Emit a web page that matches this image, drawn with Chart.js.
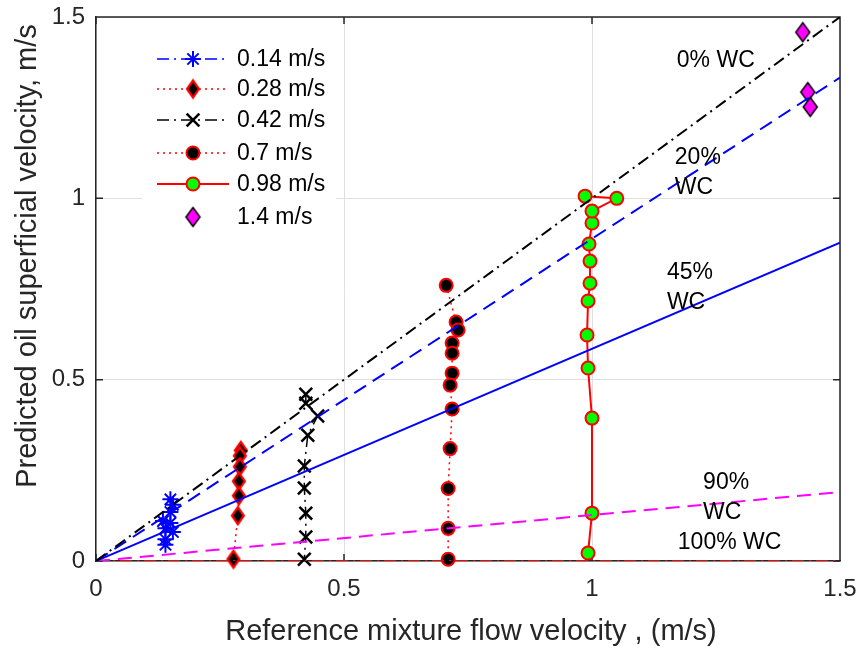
<!DOCTYPE html>
<html>
<head>
<meta charset="utf-8">
<script src="https://cdn.jsdelivr.net/npm/chart.js@4.4.1/dist/chart.umd.min.js"></script>
<style>
  body { margin: 0; background: #fff; }
</style>
</head>
<body>
<canvas id="velocityChart" width="866" height="650"></canvas>
<script>
// measured points per test velocity: reference velocity (x) vs predicted oil velocity (y)
const x014 = [0.15, 0.155, 0.15, 0.135, 0.15, 0.14, 0.155, 0.14, 0.14]
const y014 = [0.17, 0.155, 0.135, 0.11, 0.105, 0.09, 0.08, 0.06, 0.045]

const x028 = [0.292, 0.29, 0.29, 0.288, 0.288, 0.286, 0.277]
const y028 = [0.305, 0.29, 0.26, 0.22, 0.18, 0.125, 0.005]

const x042 = [0.423, 0.423, 0.447, 0.427, 0.42, 0.42, 0.423, 0.423, 0.42]
const y042 = [0.46, 0.435, 0.40, 0.347, 0.262, 0.201, 0.132, 0.066, 0.005]

const x07 = [0.706, 0.726, 0.73, 0.718, 0.718, 0.718, 0.714, 0.718, 0.714, 0.71, 0.71, 0.71]
const y07 = [0.76, 0.659, 0.637, 0.601, 0.573, 0.518, 0.485, 0.419, 0.31, 0.2, 0.09, 0.005]

const x098 = [0.992, 1.0, 1.0, 0.992, 0.99, 0.992, 0.996, 0.996, 0.994, 1.0, 1.0, 1.05, 0.986]
const y098 = [0.022, 0.132, 0.394, 0.532, 0.623, 0.717, 0.766, 0.827, 0.874, 0.932, 0.965, 1.0, 1.006]

const x14 = [1.425, 1.435, 1.44]
const y14 = [1.458, 1.293, 1.252]

// water-cut reference lines, from the origin to x = 1.5
const wcLineX = [0, 1.5]
const wcEndY = [1.5, 1.333, 0.878, 0.19, 0]

const seriesLabels = ["0.14 m/s", "0.28 m/s", "0.42 m/s", "0.7 m/s", "0.98 m/s", "1.4 m/s"]
const axisTicks = [0, 0.5, 1, 1.5]

const FONT = "'Liberation Sans', Arial, Helvetica, sans-serif"
const TEXT = "#262626"
const DASHDOT = [12, 5, 2, 5]
const DASHED = [14, 8]
const DOTTED = [2, 4]

function diamond(w, h, fill, edge, lw) {
    const c = document.createElement("canvas")
    c.width = w + lw * 2 + 2
    c.height = h + lw * 2 + 2
    const g = c.getContext("2d")
    const cx = c.width / 2, cy = c.height / 2
    g.beginPath()
    g.moveTo(cx, cy - h / 2)
    g.lineTo(cx + w / 2, cy)
    g.lineTo(cx, cy + h / 2)
    g.lineTo(cx - w / 2, cy)
    g.closePath()
    g.fillStyle = fill
    g.fill()
    g.lineWidth = lw
    g.strokeStyle = edge
    g.lineJoin = "miter"
    g.stroke()
    return c
}

const redDiamond = diamond(12, 17, "#000000", "#ff0000", 2.2)
const magentaDiamond = diamond(14, 19, "#ff00ff", "#000000", 1.5)

const pts = (xs, ys) => xs.map((x, i) => ({ x: x, y: ys[i] }))

const wcStyles = [
    { color: "#000000", dash: DASHDOT },
    { color: "#0000ff", dash: DASHED },
    { color: "#0000ff", dash: [] },
    { color: "#ff00ff", dash: DASHED },
    { color: "#ff0000", dash: DASHDOT }
]

const wcDatasets = wcEndY.map((yEnd, i) => ({
    label: "wc" + i,
    data: pts(wcLineX, [0, yEnd]),
    showLine: true,
    borderColor: wcStyles[i].color,
    borderDash: wcStyles[i].dash,
    borderWidth: 2,
    pointRadius: 0,
    order: 0
}))

const series = [
    {
        label: seriesLabels[0], data: pts(x014, y014), showLine: true,
        borderColor: "#0000ff", borderWidth: 1.5, borderDash: DASHDOT,
        pointStyle: "star", pointRadius: 8, pointBorderColor: "#0000ff", pointBorderWidth: 2
    },
    {
        label: seriesLabels[1], data: pts(x028, y028), showLine: true,
        borderColor: "#ff0000", borderWidth: 1.5, borderDash: DOTTED,
        pointStyle: redDiamond, pointRadius: 8
    },
    {
        label: seriesLabels[2], data: pts(x042, y042), showLine: true,
        borderColor: "#000000", borderWidth: 1.5, borderDash: DASHDOT,
        pointStyle: "crossRot", pointRadius: 9, pointBorderColor: "#000000", pointBorderWidth: 2.5
    },
    {
        label: seriesLabels[3], data: pts(x07, y07), showLine: true,
        borderColor: "#ff0000", borderWidth: 1.5, borderDash: DOTTED,
        pointStyle: "circle", pointRadius: 6.5, pointBackgroundColor: "#000000",
        pointBorderColor: "#ff0000", pointBorderWidth: 2
    },
    {
        label: seriesLabels[4], data: pts(x098, y098), showLine: true,
        borderColor: "#ff0000", borderWidth: 2,
        pointStyle: "circle", pointRadius: 6.5, pointBackgroundColor: "#00ff00",
        pointBorderColor: "#ff0000", pointBorderWidth: 2
    },
    {
        label: seriesLabels[5], data: pts(x14, y14), showLine: false,
        pointStyle: magentaDiamond, pointRadius: 9
    }
].map(d => Object.assign({ order: 1, clip: false }, d))

// text placed next to the water-cut lines, in data units
const wcNotes = [
    { text: "0% WC", x: 1.171, y: 1.38 },
    { text: "20%", x: 1.167, y: 1.112 },
    { text: "WC", x: 1.167, y: 1.03 },
    { text: "45%", x: 1.151, y: 0.794 },
    { text: "WC", x: 1.151, y: 0.711 },
    { text: "90%", x: 1.224, y: 0.215 },
    { text: "WC", x: 1.224, y: 0.132 },
    { text: "100% WC", x: 1.173, y: 0.05 }
]

// top/right box edges and inward tick marks
const boxPlugin = {
    id: "box",
    beforeDatasetsDraw(chart) {
        const { ctx, chartArea: a, scales } = chart
        ctx.save()
        ctx.strokeStyle = TEXT
        ctx.lineWidth = 1.5
        ctx.beginPath()
        ctx.moveTo(a.left, a.top); ctx.lineTo(a.right, a.top); ctx.lineTo(a.right, a.bottom)
        axisTicks.forEach(v => {
            const px = scales.x.getPixelForValue(v)
            const py = scales.y.getPixelForValue(v)
            ctx.moveTo(px, a.bottom); ctx.lineTo(px, a.bottom - 7)
            ctx.moveTo(px, a.top); ctx.lineTo(px, a.top + 7)
            ctx.moveTo(a.left, py); ctx.lineTo(a.left + 7, py)
            ctx.moveTo(a.right, py); ctx.lineTo(a.right - 7, py)
        })
        ctx.stroke()
        ctx.restore()
    }
}

const textPlugin = {
    id: "notes",
    afterDraw(chart) {
        const { ctx, chartArea: a, scales } = chart
        ctx.save()
        ctx.fillStyle = "#000000"
        ctx.font = "23px " + FONT
        ctx.textBaseline = "middle"
        wcNotes.forEach(n => {
            ctx.fillText(n.text, scales.x.getPixelForValue(n.x), scales.y.getPixelForValue(n.y))
        })
        // axis titles
        ctx.fillStyle = TEXT
        ctx.font = "29px " + FONT
        ctx.textAlign = "center"
        ctx.fillText("Reference mixture flow velocity , (m/s)", (a.left + a.right) / 2 + 3, 632)
        ctx.translate(28, 256)
        ctx.rotate(-Math.PI / 2)
        ctx.fillText("Predicted oil superficial velocity, m/s", 0, 0)
        ctx.restore()
    }
}

const legendPlugin = {
    id: "seriesLegend",
    afterDraw(chart) {
        const { ctx } = chart
        const rows = [59, 89, 120, 153, 184, 217]
        ctx.save()
        ctx.fillStyle = "#ffffff"
        ctx.fillRect(142, 38, 194, 198)
        ctx.font = "23px " + FONT
        ctx.textBaseline = "middle"
        series.forEach((d, i) => {
            const y = rows[i]
            if (d.showLine) {
                ctx.beginPath()
                ctx.setLineDash(d.borderDash || [])
                ctx.strokeStyle = d.borderColor
                ctx.lineWidth = d.borderWidth
                ctx.moveTo(157, y)
                ctx.lineTo(229, y)
                ctx.stroke()
                ctx.setLineDash([])
            }
            ctx.fillStyle = d.pointBackgroundColor || "#000000"
            ctx.strokeStyle = d.pointBorderColor || "#000000"
            ctx.lineWidth = d.pointBorderWidth || 1
            Chart.helpers.drawPoint(ctx, {
                pointStyle: d.pointStyle,
                radius: d.pointRadius,
                borderWidth: d.pointBorderWidth || 0,
                rotation: 0
            }, 193, y)
            ctx.fillStyle = "#000000"
            ctx.fillText(d.label, 237, y + 1)
        })
        ctx.restore()
    }
}

const axisFont = { family: FONT, size: 24 }
const tickText = v => String(v)

// fixed axis sizes, no extra room for overhanging end labels
function fitX(s) {
    s.height = 89
    s.paddingLeft = 0
    s.paddingRight = 0
}
function fitY(s) {
    s.width = 96
    s.paddingTop = 0
    s.paddingBottom = 0
}

const config = {
    type: "scatter",
    data: { datasets: wcDatasets.concat(series) },
    options: {
        responsive: false,
        animation: false,
        layout: { padding: { top: 17, right: 26 } },
        plugins: {
            legend: { display: false },
            tooltip: { enabled: false }
        },
        scales: {
            x: {
                type: "linear", min: 0, max: 1.5,
                ticks: { stepSize: 0.5, color: TEXT, font: axisFont, padding: 14, callback: tickText },
                grid: { color: "#dfdfdf", lineWidth: 1, drawTicks: false },
                border: { color: TEXT, width: 1.5 },
                afterFit: fitX
            },
            y: {
                type: "linear", min: 0, max: 1.5,
                ticks: { stepSize: 0.5, color: TEXT, font: axisFont, padding: 11, callback: tickText },
                grid: { color: "#dfdfdf", lineWidth: 1, drawTicks: false },
                border: { color: TEXT, width: 1.5 },
                afterFit: fitY
            }
        }
    },
    plugins: [boxPlugin, textPlugin, legendPlugin]
}

const velocityChart = new Chart(document.getElementById("velocityChart"), config)
</script>
</body>
</html>
